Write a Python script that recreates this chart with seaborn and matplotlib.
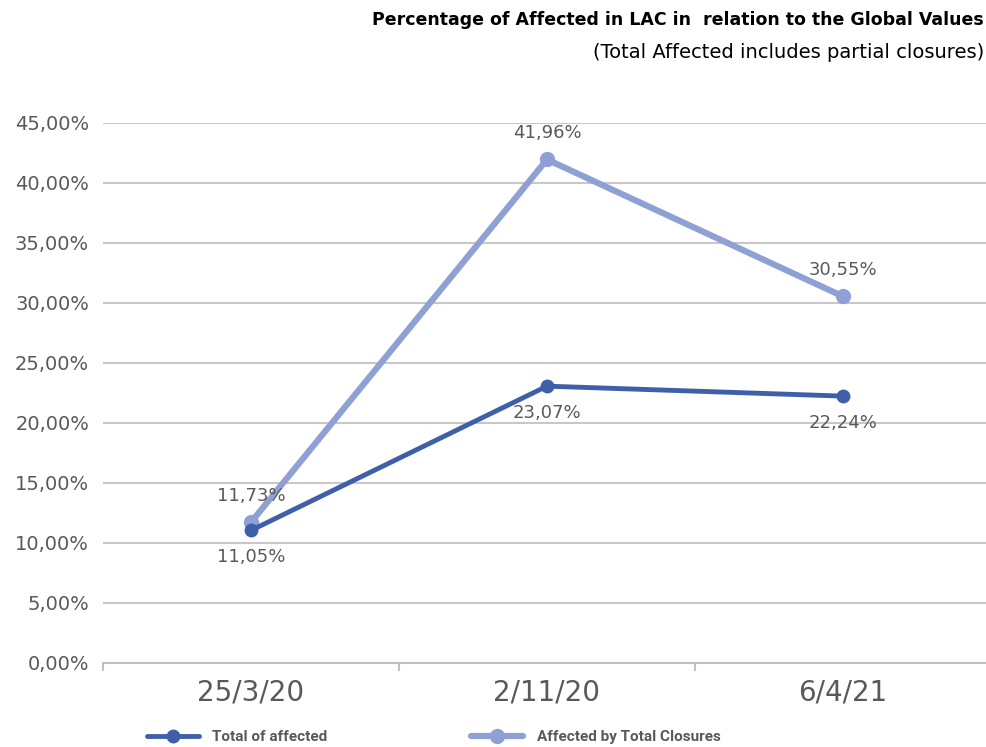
import matplotlib
matplotlib.use("Agg")
import matplotlib.pyplot as plt
import seaborn as sns
import pandas as pd
from matplotlib.lines import Line2D

dates = ["25/3/20", "2/11/20", "6/4/21"]
total_affected = [11.05, 23.07, 22.24]
total_closures = [11.73, 41.96, 30.55]
series_names = ["Total of affected", "Affected by Total Closures"]
yticks = [0, 5, 10, 15, 20, 25, 30, 35, 40, 45]

df = pd.DataFrame({
    "date": dates * 2,
    "pos": list(range(len(dates))) * 2,
    "value": total_affected + total_closures,
    "series": [series_names[0]] * 3 + [series_names[1]] * 3,
})

sns.set_theme(style="white")
plt.rcParams['font.family'] = ['Roboto', 'DejaVu Sans']

dark = "#3F5FA8"
light = "#8FA1D4"
grey = "#595959"
fig = plt.figure(figsize=(9.87, 7.47), dpi=100)
ax = fig.add_axes([103/987, 1 - 663/747, (991-103)/987, (663-123)/747])

sns.lineplot(data=df[df.series == series_names[1]], x="pos", y="value", color=light,
             lw=4.5, marker="o", markersize=11, markeredgewidth=0, ax=ax, sort=False, zorder=3)
sns.lineplot(data=df[df.series == series_names[0]], x="pos", y="value", color=dark,
             lw=3.5, marker="o", markersize=10, markeredgewidth=0, ax=ax, sort=False, zorder=4)

ax.set_xlim(-0.5, 2.5)
ax.set_ylim(0, 45)
ax.set_yticks(yticks)
ax.set_yticklabels([f"{v:.2f}%".replace(".", ",") for v in yticks], fontsize=14,
                   color=grey, family="DejaVu Sans")
ax.grid(axis="y", color="#C8C8C8", lw=1.5)
ax.set_axisbelow(True)
ax.set_xticks(range(len(dates)))
ax.set_xticklabels(dates, fontsize=20, color=grey, family="DejaVu Sans")
ax.set_xticks([-0.5, 0.5, 1.5, 2.5], minor=True)
ax.tick_params(axis="x", which="major", length=0, pad=11)
ax.tick_params(axis="x", which="minor", length=6, color="#BFBFBF", width=1.5, bottom=True)
ax.tick_params(axis="y", length=0, pad=10)
for s in ["top", "right", "left"]:
    ax.spines[s].set_visible(False)
ax.spines["bottom"].set_color("#BFBFBF")
ax.spines["bottom"].set_linewidth(1.5)
ax.set_xlabel("")
ax.set_ylabel("")

for i, v in enumerate(total_closures):
    ax.annotate(f"{v:.2f}%".replace(".", ","), (i, v), xytext=(0, 19), textcoords="offset points",
                ha="center", va="center", fontsize=13, color=grey, family="DejaVu Sans")
for i, v in enumerate(total_affected):
    ax.annotate(f"{v:.2f}%".replace(".", ","), (i, v), xytext=(0, -19), textcoords="offset points",
                ha="center", va="center", fontsize=13, color=grey, family="DejaVu Sans")

fig.text(0.997, 1 - 20/747, "Percentage of Affected in LAC in  relation to the Global Values",
         ha="right", va="center", fontsize=12.5, fontweight="bold", color="black",
         family="DejaVu Sans")
fig.text(0.997, 1 - 52/747, "(Total Affected includes partial closures)",
         ha="right", va="center", fontsize=14, color="black", family="DejaVu Sans")

handles = [Line2D([0], [0], color=dark, lw=3.5, marker="o", markersize=10, markeredgewidth=0),
           Line2D([0], [0], color=light, lw=4.5, marker="o", markersize=11, markeredgewidth=0)]
fig.legend(handles, series_names, loc="center left", bbox_to_anchor=(133/987, 1 - 737/747),
           ncol=2, frameon=False, handlelength=3.4, handletextpad=0.9, columnspacing=9.4,
           labelcolor=grey, prop={"weight": "bold", "size": 11})

fig.savefig("out.png", dpi=100)
